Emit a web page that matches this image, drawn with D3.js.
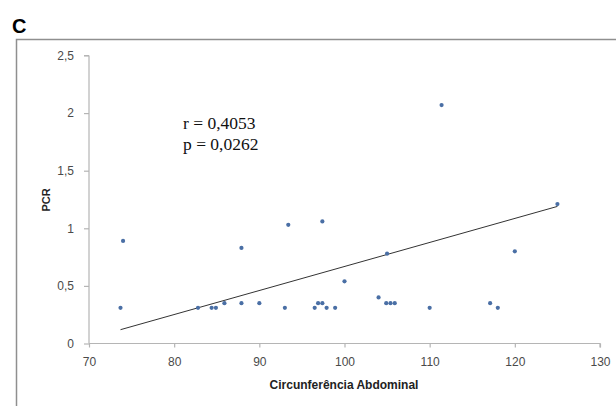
<!DOCTYPE html>
<html>
<head>
<meta charset="utf-8">
<script src="https://cdn.jsdelivr.net/npm/d3@7"></script>
<style>
  html, body { margin: 0; padding: 0; background: #fff; }
  svg { display: block; }
</style>
</head>
<body>
<svg id="chart" width="616" height="406"></svg>
<script>
// ---- data ----
const circAbdominal = [73.7, 74, 82.8, 84.4, 84.9, 85.9, 87.9, 87.9, 90, 93, 93.4, 96.5, 96.9, 97.4, 97.4, 97.9, 98.9, 100, 104, 104.9, 105, 105.4, 105.9, 110, 111.4, 117.1, 118, 120, 125];
const pcr          = [0.31, 0.89, 0.31, 0.31, 0.31, 0.35, 0.83, 0.35, 0.35, 0.31, 1.03, 0.31, 0.35, 0.35, 1.06, 0.31, 0.31, 0.54, 0.40, 0.35, 0.78, 0.35, 0.35, 0.31, 2.07, 0.35, 0.31, 0.80, 1.21];
const trendX = [73.7, 125];
const trendY = [0.12, 1.19];
const xTicks = [70, 80, 90, 100, 110, 120, 130];
const yTicks = [0, 0.5, 1, 1.5, 2, 2.5];
const statLines = ["r = 0,4053", "p = 0,0262"];
const panelLabel = "C";
const xTitle = "Circunferência Abdominal";
const yTitle = "PCR";

const svg = d3.select("#chart");
const fmt = v => String(v).replace(".", ",");

const x = d3.scaleLinear().domain([70, 130]).range([89, 600]);
const y = d3.scaleLinear().domain([0, 2.5]).range([343.5, 55.5]);

// panel frame
svg.append("rect")
  .attr("x", 16.5).attr("y", 39.5)
  .attr("width", 640).attr("height", 400)
  .attr("fill", "none").attr("stroke", "#8f8f8f").attr("stroke-width", 1.5);

// panel letter
svg.append("text")
  .attr("x", 12).attr("y", 33)
  .attr("font-family", "Liberation Sans, Arial, sans-serif")
  .attr("font-weight", "bold").attr("font-size", 20)
  .attr("fill", "#000").text(panelLabel);

const axisColor = "#b5b5b5";
const labelColor = "#4a4a4a";

// y axis
const gy = svg.append("g").attr("transform", `translate(${x(70)},0)`)
  .call(d3.axisLeft(y).tickValues(yTicks).tickFormat(fmt).tickSize(5).tickPadding(10));
// x axis
const gx = svg.append("g").attr("transform", `translate(0,${y(0)})`)
  .call(d3.axisBottom(x).tickValues(xTicks).tickFormat(d3.format("d")).tickSize(4).tickPadding(10));

[gx, gy].forEach(g => {
  g.select(".domain").attr("stroke", axisColor).attr("stroke-width", 1.2);
  g.selectAll(".tick line").attr("stroke", axisColor).attr("stroke-width", 1.2);
  g.selectAll(".tick text")
    .attr("font-family", "Liberation Sans, Arial, sans-serif")
    .attr("font-size", 12).attr("fill", labelColor);
});
gy.select(".domain").attr("d", `M0,${y(2.5)}H-5M0,${y(2.5)}V${y(0)}`);
gx.select(".domain").attr("d", `M${x(70)},0H${x(130)}V4`);

// axis titles
svg.append("text")
  .attr("x", 344).attr("y", 389)
  .attr("text-anchor", "middle")
  .attr("font-family", "Liberation Sans, Arial, sans-serif")
  .attr("font-weight", "bold").attr("font-size", 12)
  .attr("fill", "#222").text(xTitle);

svg.append("text")
  .attr("transform", "translate(50,200) rotate(-90)")
  .attr("text-anchor", "middle")
  .attr("font-family", "Liberation Sans, Arial, sans-serif")
  .attr("font-weight", "bold").attr("font-size", 11)
  .attr("fill", "#222").text(yTitle);

// trend line
svg.append("line")
  .attr("x1", x(trendX[0])).attr("y1", y(trendY[0]))
  .attr("x2", x(trendX[1])).attr("y2", y(trendY[1]))
  .attr("stroke", "#333").attr("stroke-width", 1);

// points
svg.append("g").selectAll("circle")
  .data(circAbdominal.map((d, i) => [d, pcr[i]]))
  .join("circle")
  .attr("cx", d => x(d[0]))
  .attr("cy", d => y(d[1]))
  .attr("r", 2.1)
  .attr("fill", "#4a6fa5");

// stats text
svg.append("g").selectAll("text")
  .data(statLines)
  .join("text")
  .attr("x", 183).attr("y", (d, i) => 129 + i * 21)
  .attr("font-family", "Liberation Serif, Times New Roman, serif")
  .attr("font-size", 17.5).attr("fill", "#111")
  .text(d => d);
</script>
</body>
</html>
